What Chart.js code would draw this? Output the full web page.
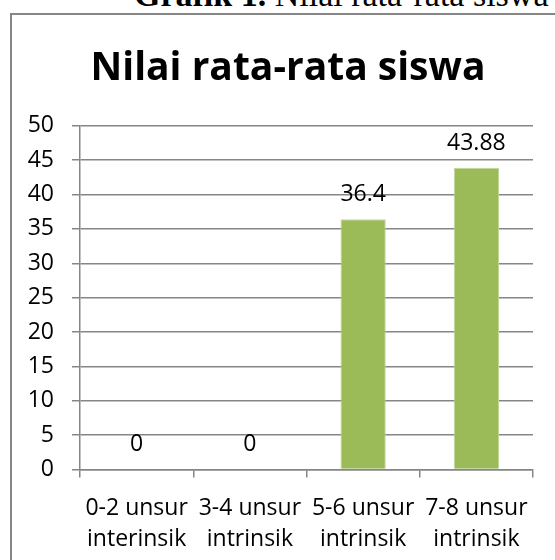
<!DOCTYPE html>
<html>
<head>
<meta charset="utf-8">
<script src="https://cdn.jsdelivr.net/npm/chart.js@4.4.0/dist/chart.umd.min.js"></script>
<style>
  html, body { margin: 0; padding: 0; background: #fff; overflow: hidden; }
  body { width: 555px; height: 560px; position: relative; }
  .caption {
    position: absolute; left: 134px; top: -21px;
    font-family: 'Liberation Serif', serif; font-size: 34px; line-height: 32px;
    color: #000; white-space: nowrap;
  }
  .frame {
    position: absolute; left: 10px; top: 13px; width: 600px; height: 600px;
    border-left: 2px solid #868686; border-top: 2px solid #868686;
  }
  .box { position: absolute; left: 12px; top: 15px; width: 548px; height: 555px; }
</style>
</head>
<body>
<div class="caption"><b>Grafik 1.</b> Nilai rata-rata siswa</div>
<div class="frame"></div>
<div class="box"><canvas id="nilai"></canvas></div>
<script>
const categories = [
  ['0-2 unsur', 'interinsik'],
  ['3-4 unsur', 'intrinsik'],
  ['5-6 unsur', 'intrinsik'],
  ['7-8 unsur', 'intrinsik']
]
const nilaiRataRata = [ 0, 0, 36.4, 43.88 ]
const yTicks = [ 0, 5, 10, 15, 20, 25, 30, 35, 40, 45, 50 ]

const barLabels = {
  id: 'barLabels',
  afterDatasetsDraw(chart) {
    const { ctx } = chart
    const meta = chart.getDatasetMeta(0)
    ctx.save()
    ctx.font = '23px "Open Sans"'
    ctx.fillStyle = '#000'
    ctx.textAlign = 'center'
    ctx.textBaseline = 'alphabetic'
    meta.data.forEach((bar, i) => {
      ctx.fillText(String(nilaiRataRata[i]), bar.x, bar.y - 18)
    })
    ctx.restore()
  }
}

Chart.defaults.font.family = '"Open Sans", sans-serif'
Chart.defaults.color = '#000'

let nilaiChart = new Chart(document.querySelector('#nilai'), {
  plugins: [barLabels],
  type: 'bar',
  data: {
    labels: categories,
    datasets: [{
      label: 'Nilai rata-rata siswa',
      data: nilaiRataRata,
      backgroundColor: '#9BBB59',
      borderColor: '#C3D69B',
      borderWidth: 1,
      barPercentage: 0.4,
      categoryPercentage: 1
    }]
  },
  options: {
    responsive: true,
    maintainAspectRatio: false,
    animation: false,
    layout: {
      padding: { left: 4, right: 0, top: 0, bottom: 0 }
    },
    scales: {
      x: {
        grid: {
          drawOnChartArea: false,
          color: '#868686',
          lineWidth: 1.5,
          tickLength: 8
        },
        border: { color: '#868686', width: 1.5 },
        ticks: {
          font: { size: 23, lineHeight: 1.36 },
          padding: 15,
          maxRotation: 0,
          autoSkip: false
        }
      },
      y: {
        min: 0,
        max: 50,
        afterBuildTicks(scale) {
          scale.ticks = yTicks.map(v => ({ value: v }))
        },
        afterFit(scale) {
          scale.width = 64
        },
        grid: {
          color: '#868686',
          lineWidth: 1.5,
          tickLength: 8
        },
        border: { color: '#868686', width: 1.5 },
        ticks: {
          font: { size: 23 },
          padding: 18
        }
      },
      // empty right axis, only reserves the right margin so the title stays centred on the whole box
      spacer: {
        type: 'linear',
        position: 'right',
        grid: { display: false },
        border: { display: false },
        ticks: { display: false },
        afterFit(scale) {
          scale.width = 27
        }
      }
    },
    plugins: {
      legend: { display: false },
      tooltip: { enabled: false },
      title: {
        display: true,
        text: 'Nilai rata-rata siswa',
        color: '#000',
        font: { size: 39, weight: 'bold', lineHeight: 1.2 },
        padding: { top: 30, bottom: 34 }
      }
    }
  }
})
</script>
</body>
</html>
